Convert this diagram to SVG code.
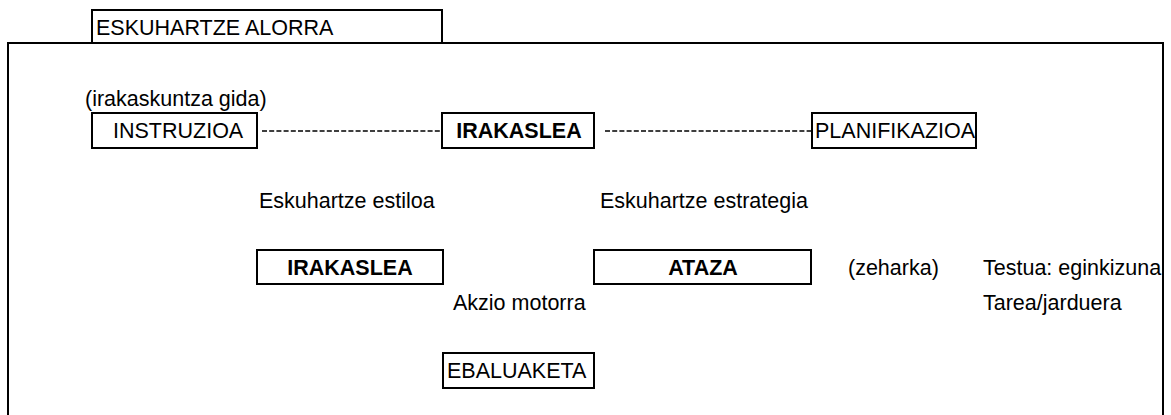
<svg xmlns="http://www.w3.org/2000/svg" width="1171" height="415" viewBox="0 0 1171 415">
<style>
.box{fill:#fff;stroke:#000;stroke-width:2}
.t{font-family:"Liberation Sans",Arial,sans-serif;font-size:21.5px;fill:#000}
.b{font-weight:bold}
.dash{stroke:#000;stroke-width:1.5;stroke-dasharray:5 2.2;fill:none}
</style>
<rect width="1171" height="415" fill="#fff"/>
<g id="frame">
<rect class="box" x="8" y="43" width="1155" height="400"/>
</g>
<g id="tab">
<rect class="box" x="92" y="10" width="350" height="33"/>
<text class="t" x="96" y="35">ESKUHARTZE ALORRA</text>
</g>
<g id="connectors">
<line class="dash" x1="262" y1="131" x2="442" y2="131"/>
<line class="dash" x1="605" y1="131" x2="818" y2="131"/>
</g>
<g id="label-gida"><text class="t" x="85" y="106">(irakaskuntza gida)</text></g>
<g id="instruzioa">
<rect class="box" x="92" y="113" width="165" height="35"/>
<text class="t" x="113" y="138">INSTRUZIOA</text>
</g>
<g id="irakaslea-top">
<rect class="box" x="442" y="113" width="152" height="35"/>
<text class="t b" x="519" y="138" text-anchor="middle">IRAKASLEA</text>
</g>
<g id="planifikazioa">
<rect class="box" x="812" y="113" width="164" height="35"/>
<text class="t" x="815" y="138">PLANIFIKAZIOA</text>
</g>
<g id="label-estiloa"><text class="t" x="259" y="208">Eskuhartze estiloa</text></g>
<g id="label-estrategia"><text class="t" x="600" y="208">Eskuhartze estrategia</text></g>
<g id="irakaslea-mid">
<rect class="box" x="257" y="250" width="186" height="34"/>
<text class="t b" x="350" y="275" text-anchor="middle">IRAKASLEA</text>
</g>
<g id="ataza">
<rect class="box" x="594" y="250" width="217" height="34"/>
<text class="t b" x="703" y="275" text-anchor="middle">ATAZA</text>
</g>
<g id="label-zeharka"><text class="t" x="848" y="275">(zeharka)</text></g>
<g id="label-testua"><text class="t" x="983" y="275">Testua: eginkizuna</text></g>
<g id="label-tarea"><text class="t" x="983" y="310">Tarea/jarduera</text></g>
<g id="label-akzio"><text class="t" x="453" y="310">Akzio motorra</text></g>
<g id="ebaluaketa">
<rect class="box" x="443" y="353" width="151" height="35"/>
<text class="t" x="447" y="378">EBALUAKETA</text>
</g>
</svg>
